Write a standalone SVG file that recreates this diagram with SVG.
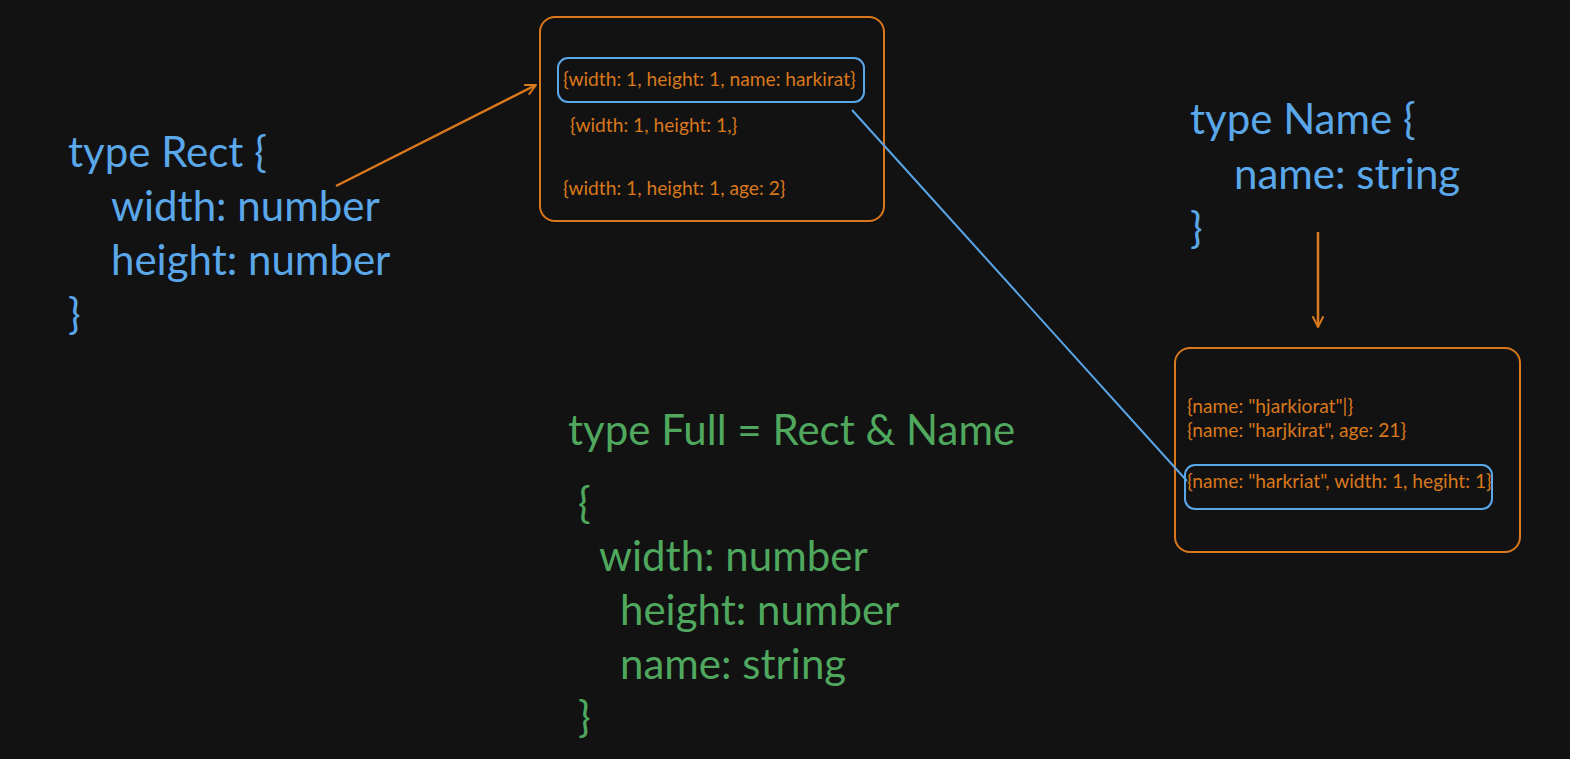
<svg xmlns="http://www.w3.org/2000/svg" width="1570" height="759" viewBox="0 0 1570 759">
<defs>
<style>
.bg{fill:#121212}
.big{font-family:Lato,"Noto Sans","Liberation Sans",sans-serif;font-size:42px}
.blue{fill:#5aa7ea}
.green{fill:#4fa85e}
.small{font-family:Lato,"Noto Sans","Liberation Sans",sans-serif;font-size:19.2px;fill:#d9781c}
.obox{fill:none;stroke:#d9781c;stroke-width:2}
.bbox{fill:none;stroke:#5aa7ea;stroke-width:2}
.oline{fill:none;stroke:#d9781c;stroke-width:2.5}
.bline{fill:none;stroke:#5aa7ea;stroke-width:2}
</style>
<marker id="ah" viewBox="0 0 12 12" refX="11" refY="6" markerWidth="12" markerHeight="12" markerUnits="userSpaceOnUse" orient="auto">
<path d="M1,1 L11,6 L1,11" fill="none" stroke="#d9781c" stroke-width="2" stroke-linecap="round" stroke-linejoin="round"/>
</marker>
</defs>
<rect class="bg" x="0" y="0" width="1570" height="759"/>

<g id="rect-type" class="big blue">
<text x="68" y="167">type Rect {</text>
<text x="111" y="221">width: number</text>
<text x="111" y="275">height: number</text>
<text x="68" y="329">}</text>
</g>

<g id="name-type" class="big blue">
<text x="1190" y="134">type Name {</text>
<text x="1234" y="189">name: string</text>
<text x="1190" y="243">}</text>
</g>

<g id="full-type" class="big green">
<text x="568" y="445">type Full = Rect &amp; Name</text>
<text x="578" y="518">{</text>
<text x="599" y="571">width: number</text>
<text x="620" y="625">height: number</text>
<text x="620" y="679">name: string</text>
<text x="578" y="732">}</text>
</g>

<g id="rect-values">
<rect class="obox" x="540" y="17" width="344" height="204" rx="15"/>
<rect class="bbox" x="558" y="58" width="306" height="44" rx="10"/>
<text class="small" x="563" y="86">{width: 1, height: 1, name: harkirat}</text>
<text class="small" x="570" y="132">{width: 1, height: 1,}</text>
<text class="small" x="563" y="195">{width: 1, height: 1, age: 2}</text>
</g>

<g id="name-values">
<rect class="obox" x="1175" y="348" width="345" height="204" rx="15"/>
<rect class="bbox" x="1185" y="465" width="307" height="44" rx="10"/>
<text class="small" x="1187" y="413">{name: "hjarkiorat"|}</text>
<text class="small" x="1187" y="437">{name: "harjkirat", age: 21}</text>
<text class="small" x="1187" y="488">{name: "harkriat", width: 1, hegiht: 1}</text>
</g>

<g id="connectors">
<line class="oline" x1="336" y1="186" x2="536" y2="85" marker-end="url(#ah)"/>
<line class="oline" x1="1318" y1="232" x2="1318" y2="327" marker-end="url(#ah)"/>
<line class="bline" x1="852" y1="110" x2="1187" y2="481"/>
</g>
</svg>
